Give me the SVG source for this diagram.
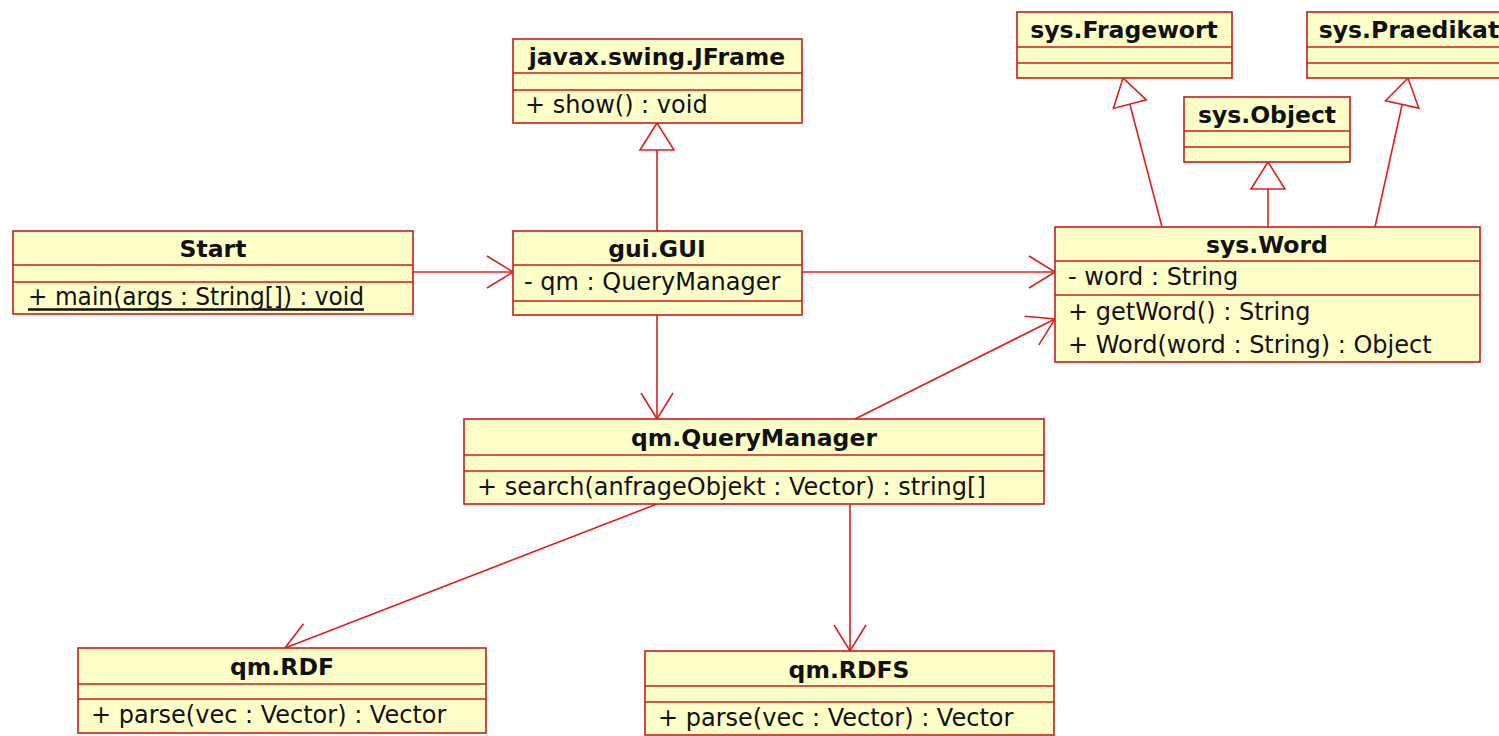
<svg xmlns="http://www.w3.org/2000/svg" width="1499" height="736" viewBox="0 0 1499 736">
<style>
.box{fill:#ffffc8;stroke:#c41e1e;stroke-width:1.6}
.div{stroke:#c41e1e;stroke-width:1.6}
.name{font-family:"DejaVu Sans",sans-serif;font-size:23.5px;font-weight:bold;fill:#111;text-anchor:middle}
.m{font-family:"DejaVu Sans",sans-serif;font-size:24px;fill:#111}
.c{fill:none;stroke:#e02020;stroke-width:1.6}
</style>
<defs>
<marker id="open" markerUnits="userSpaceOnUse" orient="auto" markerWidth="40" markerHeight="40" viewBox="-30 -20 32 40" refX="0" refY="0">
<path d="M -26 -16 L 0 0 L -26 16" fill="none" stroke="#e02020" stroke-width="1.6"/>
</marker>
<marker id="tri" markerUnits="userSpaceOnUse" orient="auto" markerWidth="40" markerHeight="40" viewBox="-30 -20 32 40" refX="0" refY="0">
<path d="M 0 0 L -27 -17 L -27 17 Z" fill="#ffffff" stroke="#e02020" stroke-width="1.6"/>
</marker>
</defs>
<rect width="1499" height="736" fill="#ffffff"/>
<g id="connectors">
<path class="c" d="M 413 272 L 513 272" marker-end="url(#open)"/>
<path class="c" d="M 802 272 L 1055 272" marker-end="url(#open)"/>
<path class="c" d="M 657 315 L 657 419" marker-end="url(#open)"/>
<path class="c" d="M 855 419 L 1055 319" marker-end="url(#open)"/>
<path class="c" d="M 657 504 L 285 648" marker-end="url(#open)"/>
<path class="c" d="M 850 504 L 850 651" marker-end="url(#open)"/>
<path class="c" d="M 657 231 L 657 123" marker-end="url(#tri)"/>
<path class="c" d="M 1268 227 L 1268 162" marker-end="url(#tri)"/>
<path class="c" d="M 1162 227 L 1123 78" marker-end="url(#tri)"/>
<path class="c" d="M 1375 227 L 1408 78" marker-end="url(#tri)"/>
</g>
<g id="jframe">
<rect class="box" x="513" y="39" width="289" height="84"/>
<line class="div" x1="513" y1="73" x2="802" y2="73"/>
<line class="div" x1="513" y1="90" x2="802" y2="90"/>
<text class="name" x="657" y="65">javax.swing.JFrame</text>
<text class="m" x="525" y="113">+ show() : void</text>
</g>
<g id="start">
<rect class="box" x="13" y="231" width="400" height="83"/>
<line class="div" x1="13" y1="265" x2="413" y2="265"/>
<line class="div" x1="13" y1="282" x2="413" y2="282"/>
<text class="name" x="213" y="257">Start</text>
<text class="m" x="28" y="305" textLength="336" lengthAdjust="spacingAndGlyphs">+ main(args : String[]) : void</text>
<line x1="28" y1="309.5" x2="364" y2="309.5" stroke="#111" stroke-width="2.5"/>
</g>
<g id="gui">
<rect class="box" x="513" y="231" width="289" height="84"/>
<line class="div" x1="513" y1="265" x2="802" y2="265"/>
<line class="div" x1="513" y1="301" x2="802" y2="301"/>
<text class="name" x="657" y="257">gui.GUI</text>
<text class="m" x="524" y="290">- qm : QueryManager</text>
</g>
<g id="fragewort">
<rect class="box" x="1017" y="12" width="215" height="66"/>
<line class="div" x1="1017" y1="47" x2="1232" y2="47"/>
<line class="div" x1="1017" y1="63" x2="1232" y2="63"/>
<text class="name" x="1124" y="38">sys.Fragewort</text>
</g>
<g id="praedikat">
<rect class="box" x="1307" y="12" width="204" height="66"/>
<line class="div" x1="1307" y1="47" x2="1511" y2="47"/>
<line class="div" x1="1307" y1="63" x2="1511" y2="63"/>
<text class="name" x="1409" y="38">sys.Praedikat</text>
</g>
<g id="object">
<rect class="box" x="1184" y="97" width="166" height="65"/>
<line class="div" x1="1184" y1="131" x2="1350" y2="131"/>
<line class="div" x1="1184" y1="147" x2="1350" y2="147"/>
<text class="name" x="1267" y="123">sys.Object</text>
</g>
<g id="word">
<rect class="box" x="1055" y="227" width="425" height="135"/>
<line class="div" x1="1055" y1="261" x2="1480" y2="261"/>
<line class="div" x1="1055" y1="295" x2="1480" y2="295"/>
<text class="name" x="1267" y="253">sys.Word</text>
<text class="m" x="1068" y="285">- word : String</text>
<text class="m" x="1068" y="320">+ getWord() : String</text>
<text class="m" x="1068" y="353">+ Word(word : String) : Object</text>
</g>
<g id="querymanager">
<rect class="box" x="464" y="419" width="580" height="85"/>
<line class="div" x1="464" y1="455" x2="1044" y2="455"/>
<line class="div" x1="464" y1="471" x2="1044" y2="471"/>
<text class="name" x="754" y="446">qm.QueryManager</text>
<text class="m" x="477" y="495">+ search(anfrageObjekt : Vector) : string[]</text>
</g>
<g id="rdf">
<rect class="box" x="78" y="648" width="408" height="85"/>
<line class="div" x1="78" y1="684" x2="486" y2="684"/>
<line class="div" x1="78" y1="699" x2="486" y2="699"/>
<text class="name" x="282" y="675">qm.RDF</text>
<text class="m" x="91" y="723">+ parse(vec : Vector) : Vector</text>
</g>
<g id="rdfs">
<rect class="box" x="645" y="651" width="409" height="84"/>
<line class="div" x1="645" y1="686" x2="1054" y2="686"/>
<line class="div" x1="645" y1="702" x2="1054" y2="702"/>
<text class="name" x="849" y="678">qm.RDFS</text>
<text class="m" x="658" y="726">+ parse(vec : Vector) : Vector</text>
</g>
</svg>
